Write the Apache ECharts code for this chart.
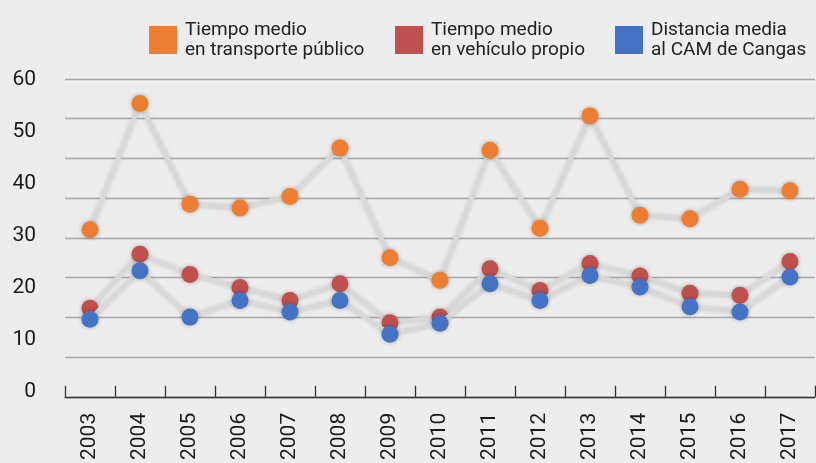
<!DOCTYPE html>
<html>
<head>
<meta charset="utf-8">
<script src="https://cdn.jsdelivr.net/npm/echarts@6/dist/echarts.min.js"></script>
<style>
html,body{margin:0;padding:0;background:#ededed;}
#chart{width:816px;height:463px;}
</style>
</head>
<body>
<div id="chart"></div>
<script>
const years = ['2003','2004','2005','2006','2007','2008','2009','2010','2011','2012','2013','2014','2015','2016','2017'];
const seriesNames = ['Tiempo medio\nen transporte público','Tiempo medio\nen vehículo propio','Distancia media\nal CAM de Cangas'];
const transportePublico = [31.2,55.5,36.1,35.4,37.6,46.9,25.8,21.5,46.5,31.5,53.1,34.0,33.3,39.0,38.7];
const vehiculoPropio = [16.1,26.5,22.6,20.1,17.6,20.8,13.3,14.4,23.7,19.5,24.7,22.3,19.0,18.6,25.1];
const distanciaMedia = [14.0,23.3,14.4,17.6,15.4,17.6,11.1,13.2,20.8,17.6,22.4,20.2,16.4,15.4,22.1];
const yTicks = [0,10,20,30,40,50,60];
const colors = ['#ed7d31','#c0504d','#4472c4'];

const FONT = 'Roboto';
const chart = echarts.init(document.getElementById('chart'));

function mkLegend(i, left){
  return {
    left: left, top: 20, padding: 0,
    data: [seriesNames[i]],
    icon: 'rect', itemWidth: 28, itemHeight: 28, itemGap: 0,
    selectedMode: false,
    textStyle: {fontFamily: FONT, fontSize: 19, color: '#222', lineHeight: 20, padding: [0,0,0,3]}
  };
}

function mkSeries(i, data){
  return {
    name: seriesNames[i], type: 'line', data: data,
    xAxisIndex: 1, yAxisIndex: 1,
    symbol: 'circle', symbolSize: 17,
    lineStyle: {color: '#d9d9d9', width: 5, shadowColor: 'rgba(0,0,0,0.12)', shadowBlur: 4},
    itemStyle: {color: colors[i], shadowColor: 'rgba(0,0,0,0.3)', shadowBlur: 4},
    emphasis: {disabled: true},
    z: 2 + i
  };
}

chart.setOption({
  backgroundColor: '#ededed',
  animation: false,
  color: colors,
  legend: [mkLegend(0, 149), mkLegend(1, 395), mkLegend(2, 615)],
  grid: [
    {left: 65, right: 1, top: 79, height: 318},
    {left: 65, right: 1, top: 80, height: 312}
  ],
  xAxis: [
    {
      type: 'category', gridIndex: 0, data: years, boundaryGap: true,
      axisLine: {lineStyle: {color: '#333', width: 1.3}},
      axisTick: {show: true, inside: true, length: 11, interval: 0, lineStyle: {color: '#333', width: 1.3}},
      axisLabel: {rotate: 90, margin: 16, interval: 0, fontFamily: FONT, fontSize: 21, color: '#1a1a1a'},
      splitLine: {show: false}
    },
    {
      type: 'category', gridIndex: 1, data: years, boundaryGap: true, show: false
    }
  ],
  yAxis: [
    {
      type: 'value', gridIndex: 0, min: 0, max: 8, interval: 1,
      axisLine: {show: false}, axisTick: {show: false}, axisLabel: {show: false},
      splitLine: {show: true, lineStyle: {color: '#a6a6a6', width: 1.3}}
    },
    {
      type: 'value', gridIndex: 1, min: 0, max: 60, interval: 10,
      axisLine: {show: false}, axisTick: {show: false},
      axisLabel: {show: true, margin: 29, fontFamily: FONT, fontSize: 21, color: '#1a1a1a', formatter: function(v){ return yTicks.indexOf(v) >= 0 ? String(v) : ''; }},
      splitLine: {show: false}
    }
  ],
  series: [
    mkSeries(0, transportePublico),
    mkSeries(1, vehiculoPropio),
    mkSeries(2, distanciaMedia)
  ]
});
</script>
</body>
</html>
